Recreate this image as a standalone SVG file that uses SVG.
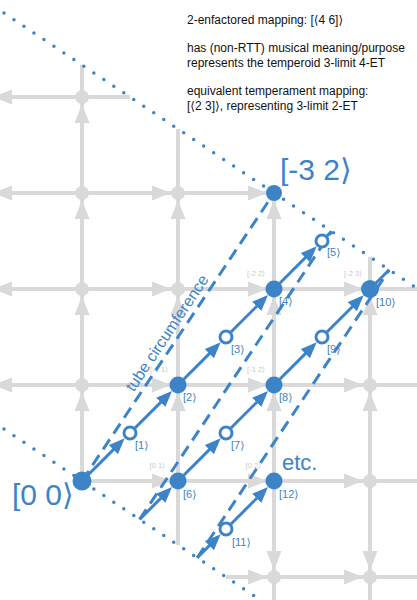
<svg xmlns="http://www.w3.org/2000/svg" width="417" height="600" viewBox="0 0 417 600">
<style>
text{font-family:"Liberation Sans",Arial,"DejaVu Sans",sans-serif}
.gl{stroke:#d9d9d9;stroke-width:4;fill:none}
.gn{fill:#d9d9d9}
.gt{fill:#c9c9c9;font-size:7.5px;text-anchor:end}
.dot{stroke:#3d84c6;stroke-width:3.5;stroke-linecap:round;stroke-dasharray:0 12;fill:none}
.dash{stroke:#3d84c6;stroke-width:3;stroke-dasharray:12 7;fill:none}
.ch{stroke:#3d84c6;stroke-width:3;fill:none}
.ar{marker-end:url(#ba)}
.bn{fill:#3d84c6}
.on{fill:#fff;stroke:#3d84c6;stroke-width:3}
.bl{fill:#3d84c6;font-size:11px}
.big{fill:#3d84c6;font-size:30px}
.note{fill:#111;font-size:12px}
</style>
<defs>
<path id="ga" class="gn" d="M0,0 L-19,-7.5 L-19,7.5 Z"/>
<marker id="ba" markerUnits="userSpaceOnUse" markerWidth="16" markerHeight="13" refX="12" refY="6.5" orient="auto" viewBox="0 0 16 13"><path d="M0,0 L16,6.5 L0,13 Z" fill="#3d84c6"/></marker>
</defs>

<g id="lattice">
<g id="lattice-lines" class="gl">
<line x1="0" y1="97" x2="130" y2="97"/>
<line x1="0" y1="193" x2="274" y2="193"/>
<line x1="0" y1="289" x2="417" y2="289"/>
<line x1="0" y1="385" x2="417" y2="385"/>
<line x1="82" y1="481" x2="417" y2="481"/>
<line x1="226" y1="577" x2="417" y2="577"/>
<line x1="82" y1="65" x2="82" y2="481"/>
<line x1="178" y1="129" x2="178" y2="545"/>
<line x1="274" y1="193" x2="274" y2="600"/>
<line x1="370" y1="257" x2="370" y2="600"/>
</g>
<g id="lattice-arrows">
<use href="#ga" transform="translate(171,193)"/>
<use href="#ga" transform="translate(171,289)"/>
<use href="#ga" transform="translate(171,385)"/>
<use href="#ga" transform="translate(171,481)"/>
<use href="#ga" transform="translate(267,193)"/>
<use href="#ga" transform="translate(267,289)"/>
<use href="#ga" transform="translate(267,385)"/>
<use href="#ga" transform="translate(267,481)"/>
<use href="#ga" transform="translate(267,577)"/>
<use href="#ga" transform="translate(363,289)"/>
<use href="#ga" transform="translate(363,385)"/>
<use href="#ga" transform="translate(363,481)"/>
<use href="#ga" transform="translate(363,577)"/>
<use href="#ga" transform="translate(-7,97) rotate(180)"/>
<use href="#ga" transform="translate(-7,193) rotate(180)"/>
<use href="#ga" transform="translate(-7,289) rotate(180)"/>
<use href="#ga" transform="translate(-7,385) rotate(180)"/>
<use href="#ga" transform="translate(82,104) rotate(-90)"/>
<use href="#ga" transform="translate(82,200) rotate(-90)"/>
<use href="#ga" transform="translate(82,296) rotate(-90)"/>
<use href="#ga" transform="translate(82,392) rotate(-90)"/>
<use href="#ga" transform="translate(178,200) rotate(-90)"/>
<use href="#ga" transform="translate(178,296) rotate(-90)"/>
<use href="#ga" transform="translate(178,392) rotate(-90)"/>
<use href="#ga" transform="translate(274,200) rotate(-90)"/>
<use href="#ga" transform="translate(274,296) rotate(-90)"/>
<use href="#ga" transform="translate(274,392) rotate(-90)"/>
<use href="#ga" transform="translate(370,296) rotate(-90)"/>
<use href="#ga" transform="translate(370,392) rotate(-90)"/>
<use href="#ga" transform="translate(274,570) rotate(90)"/>
<use href="#ga" transform="translate(370,570) rotate(90)"/>
</g>
<g id="lattice-nodes" class="gn">
<circle cx="82" cy="97" r="7"/>
<circle cx="82" cy="193" r="7"/>
<circle cx="82" cy="289" r="7"/>
<circle cx="82" cy="385" r="7"/>
<circle cx="178" cy="193" r="7"/>
<circle cx="178" cy="289" r="7"/>
<circle cx="370" cy="385" r="7"/>
<circle cx="370" cy="481" r="7"/>
<circle cx="274" cy="577" r="7"/>
<circle cx="370" cy="577" r="7"/>
</g>
</g>

<g id="lattice-labels" class="gt">
<text x="168" y="372">[-1 1⟩</text>
<text x="265" y="276">[-2 2⟩</text>
<text x="165" y="468">[0 1⟩</text>
<text x="265" y="372">[-1 2⟩</text>
<text x="362" y="276">[-2 3⟩</text>
<text x="261" y="468">[0 2⟩</text>
</g>

<g id="connectors">
<g id="bounds" class="dot">
<line x1="-6" y1="6.33" x2="423" y2="292.33"/>
<line x1="-6" y1="422.33" x2="270" y2="606.33"/>
</g>
<g id="tube" class="dash">
<line x1="82" y1="481" x2="274" y2="193"/>
<line x1="139.6" y1="519.4" x2="331.6" y2="231.4"/>
<line x1="197.2" y1="557.8" x2="389.2" y2="269.8"/>
</g>
<g id="chain1" class="ch">
<line class="ar" x1="82" y1="481" x2="121.87" y2="441.13"/>
<line class="ar" x1="130" y1="433" x2="169.16" y2="393.84"/>
<line class="ar" x1="178" y1="385" x2="217.87" y2="345.13"/>
<line class="ar" x1="226" y1="337" x2="265.16" y2="297.84"/>
<line class="ar" x1="274" y1="289" x2="313.87" y2="249.13"/>
<line x1="322" y1="241" x2="331.6" y2="231.4"/>
</g>
<g id="chain2" class="ch">
<line class="ar" x1="139.6" y1="519.4" x2="169.16" y2="489.84"/>
<line class="ar" x1="178" y1="481" x2="217.87" y2="441.13"/>
<line class="ar" x1="226" y1="433" x2="265.16" y2="393.84"/>
<line class="ar" x1="274" y1="385" x2="313.87" y2="345.13"/>
<line class="ar" x1="322" y1="337" x2="360.81" y2="298.19"/>
<line x1="370" y1="289" x2="389.2" y2="269.8"/>
</g>
<g id="chain3" class="ch">
<line class="ar" x1="197.2" y1="557.8" x2="217.87" y2="537.13"/>
<line class="ar" x1="226" y1="529" x2="265.16" y2="489.84"/>
</g>
</g>

<text id="tube-label" x="171.5" y="336" transform="rotate(-56.31 171.5 336)" text-anchor="middle" style="fill:#3d84c6;font-size:16px">tube circumference</text>

<g id="n00"><circle class="bn" cx="82" cy="481" r="9.5"/><text class="big" x="12" y="505">[0 0⟩</text></g>
<g id="n-32"><circle class="bn" cx="274" cy="193" r="8"/><text class="big" x="280" y="180">[-3 2⟩</text></g>
<g id="n1"><circle class="on" cx="130" cy="433" r="6"/><text class="bl" x="135" y="449">[1⟩</text></g>
<g id="n2"><circle class="bn" cx="178" cy="385" r="8.5"/><text class="bl" x="183" y="401">[2⟩</text></g>
<g id="n3"><circle class="on" cx="226" cy="337" r="6"/><text class="bl" x="231" y="353">[3⟩</text></g>
<g id="n4"><circle class="bn" cx="274" cy="289" r="8.5"/><text class="bl" x="279" y="305">[4⟩</text></g>
<g id="n5"><circle class="on" cx="322" cy="241" r="6"/><text class="bl" x="327" y="256">[5⟩</text></g>
<g id="n6"><circle class="bn" cx="178" cy="481" r="8.5"/><text class="bl" x="183" y="498">[6⟩</text></g>
<g id="n7"><circle class="on" cx="226" cy="433" r="6"/><text class="bl" x="231" y="449">[7⟩</text></g>
<g id="n8"><circle class="bn" cx="274" cy="385" r="8.5"/><text class="bl" x="279" y="401">[8⟩</text></g>
<g id="n9"><circle class="on" cx="322" cy="337" r="6"/><text class="bl" x="327" y="353">[9⟩</text></g>
<g id="n10"><circle class="bn" cx="370" cy="289" r="9"/><text class="bl" x="376" y="306">[10⟩</text></g>
<g id="n11"><circle class="on" cx="226" cy="529" r="6"/><text class="bl" x="232" y="546">[11⟩</text></g>
<g id="n12"><circle class="bn" cx="274" cy="481" r="8.5"/><text class="bl" x="279" y="498">[12⟩</text></g>
<text id="etc" x="282" y="470" style="fill:#3d84c6;font-size:22px">etc.</text>

<g id="notes" class="note">
<text x="187" y="24">2-enfactored mapping: [⟨4 6]⟩</text>
<text x="187" y="52">has (non-RTT) musical meaning/purpose</text>
<text x="187" y="67">represents the temperoid 3-limit 4-ET</text>
<text x="187" y="95">equivalent temperament mapping:</text>
<text x="187" y="110">[⟨2 3]⟩, representing 3-limit 2-ET</text>
</g>
</svg>
